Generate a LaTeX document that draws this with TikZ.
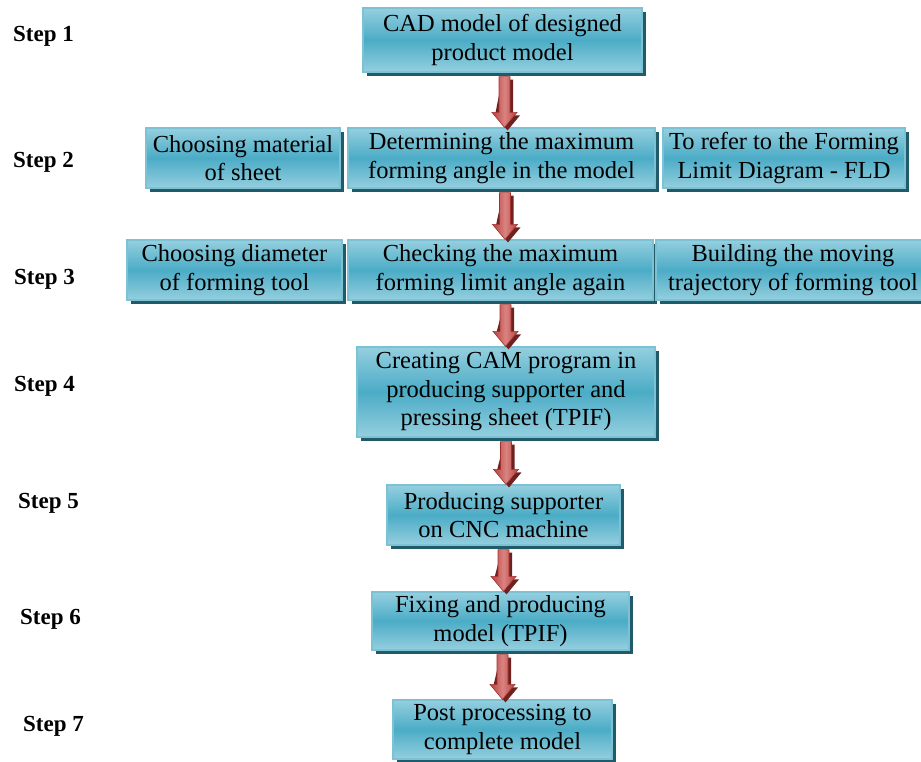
\documentclass[tikz,border=0pt]{standalone}
\usepackage{fontspec}
\setmainfont{Liberation Serif}
\newfontfamily\timesfont{Liberation Serif}
\usetikzlibrary{calc,shadows}
\definecolor{boxlight}{HTML}{95CFDF}
\definecolor{boxmid}{HTML}{4BACC6}
\definecolor{boxedge}{HTML}{7CC2D4}
\definecolor{boxshadow}{HTML}{215A69}
\definecolor{arrdark}{HTML}{B8403D}
\definecolor{arrlight}{HTML}{D98381}
\definecolor{arredge}{HTML}{A3322F}
\definecolor{arrshadow}{HTML}{6E2220}
\tikzset{
  flowbox/.style={draw=boxedge, line width=1.2pt, top color=boxlight, bottom color=boxlight, middle color=boxmid,
    align=center, inner sep=0pt, font=\timesfont\fontsize{24.5}{28.5}\selectfont,
    drop shadow={shadow xshift=4pt, shadow yshift=-4pt, fill=boxshadow, opacity=1}},
  steplabel/.style={anchor=base west, inner sep=0pt, font=\timesfont\fontsize{23}{27}\selectfont\bfseries},
}
\newcommand\flowarrow[3]{%
  \fill[arrshadow] let \p1=(#1.south), \p2=(#2.north) in
    (#3pt-2.5pt,\y1-7pt) -- (#3pt+8.5pt,\y1-7pt) -- (#3pt+8.5pt,\y2+12pt) -- (#3pt+15.5pt,\y2+12pt)
    -- (#3pt+3pt,\y2-3pt) -- (#3pt-9.5pt,\y2+12pt) -- cycle;
  \shade[left color=arrdark, right color=arrdark, middle color=arrlight, draw=arredge, line width=0.6pt]
    let \p1=(#1.south), \p2=(#2.north) in
    (#3pt-5.5pt,\y1-4pt) -- (#3pt+5.5pt,\y1-4pt) -- (#3pt+5.5pt,\y2+15pt) -- (#3pt+12.5pt,\y2+15pt)
    -- (#3pt,\y2) -- (#3pt-12.5pt,\y2+15pt) -- (#3pt-5.5pt,\y2+15pt) -- cycle;
}
\begin{document}
\begin{tikzpicture}[x=1pt,y=1pt]
\useasboundingbox (0,0) rectangle (921,-761);
\clip (0,0) rectangle (921,-761);
% step labels
\node[steplabel] (s1) at (13,-41) {Step 1};
\node[steplabel] (s2) at (13,-167) {Step 2};
\node[steplabel] (s3) at (14,-284) {Step 3};
\node[steplabel] (s4) at (14,-391) {Step 4};
\node[steplabel] (s5) at (18,-508) {Step 5};
\node[steplabel] (s6) at (20,-624) {Step 6};
\node[steplabel] (s7) at (23,-731) {Step 7};
% boxes
\node[flowbox, minimum width=279pt, minimum height=64pt] (b1) at (502.5,-40) {CAD model of designed\\product model};
\node[flowbox, minimum width=194pt, minimum height=60pt] (b2l) at (243,-158) {Choosing material\\of sheet};
\node[flowbox, minimum width=307pt, minimum height=60pt] (b2m) at (501.5,-158) {Determining the maximum\\forming angle in the model};
\node[flowbox, minimum width=242pt, minimum height=60pt] (b2r) at (784,-158) {To refer to the Forming\\Limit Diagram - FLD};
\node[flowbox, minimum width=215pt, minimum height=60pt] (b3l) at (234.5,-270) {Choosing diameter\\of forming tool};
\node[flowbox, minimum width=305pt, minimum height=60pt] (b3m) at (500.5,-270) {Checking the maximum\\forming limit angle again};
\node[flowbox, minimum width=274pt, minimum height=60pt] (b3r) at (793,-270) {Building the moving\\trajectory of forming tool};
\node[flowbox, minimum width=298pt, minimum height=90pt] (b4) at (506,-392) {Creating CAM program in\\producing supporter and\\pressing sheet (TPIF)};
\node[flowbox, minimum width=233pt, minimum height=60pt] (b5) at (503.5,-515) {Producing supporter\\on CNC machine};
\node[flowbox, minimum width=257pt, minimum height=58pt] (b6) at (500.5,-621) {Fixing and producing\\model (TPIF)};
\node[flowbox, minimum width=219pt, minimum height=59pt] (b7) at (502.5,-729.5) {Post processing to\\complete model};
% arrows
\flowarrow{b1}{b2m}{504.5}
\flowarrow{b2m}{b3m}{505}
\flowarrow{b3m}{b4}{505.5}
\flowarrow{b4}{b5}{506}
\flowarrow{b5}{b6}{503.5}
\flowarrow{b6}{b7}{502.5}
\end{tikzpicture}
\end{document}
